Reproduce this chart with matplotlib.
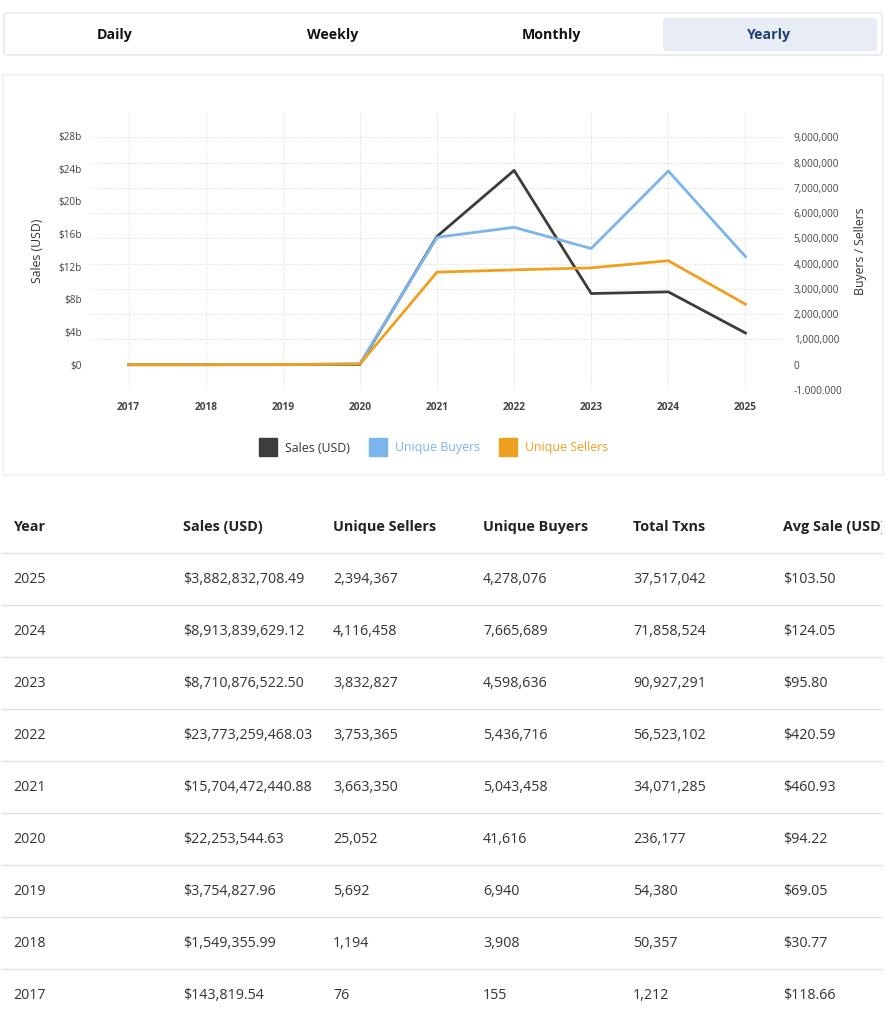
import matplotlib.pyplot as plt
from matplotlib.patches import FancyBboxPatch, Rectangle
from matplotlib.lines import Line2D
from matplotlib.ticker import FixedLocator, FuncFormatter

plt.rcParams['font.family'] = ['Open Sans', 'DejaVu Sans']

# data, chronological order
years = [2017, 2018, 2019, 2020, 2021, 2022, 2023, 2024, 2025]
sales = [143819.54, 1549355.99, 3754827.96, 22253544.63, 15704472440.88,
         23773259468.03, 8710876522.50, 8913839629.12, 3882832708.49]
sellers = [76, 1194, 5692, 25052, 3663350, 3753365, 3832827, 4116458, 2394367]
buyers = [155, 3908, 6940, 41616, 5043458, 5436716, 4598636, 7665689, 4278076]
txns = [1212, 50357, 54380, 236177, 34071285, 56523102, 90927291, 71858524, 37517042]
avg_sale = [118.66, 30.77, 69.05, 94.22, 460.93, 420.59, 95.80, 124.05, 103.50]

tabs = ['Daily', 'Weekly', 'Monthly', 'Yearly']
columns = ['Year', 'Sales (USD)', 'Unique Sellers', 'Unique Buyers', 'Total Txns', 'Avg Sale (USD)']

SALES_C = '#3c3c3c'
BUYERS_C = '#7cb5ec'
SELLERS_C = '#f0a020'
TEXT_C = '#333333'

# USD on the left axis per count on the right axis
SCALE = 3092

W, H = 885, 1014
fig = plt.figure(figsize=(W / 100, H / 100), dpi=100)
fig.patch.set_facecolor('white')


def fx(x):
    return x / W


def fy(y):
    return 1 - y / H


# tab bar
fig.patches.append(FancyBboxPatch((fx(4), fy(55)), fx(878), 42 / H,
                                  boxstyle='round,pad=0,rounding_size=0.004',
                                  transform=fig.transFigure, facecolor='white',
                                  edgecolor='#dddddd', linewidth=0.8, zorder=-10))
fig.patches.append(FancyBboxPatch((fx(663), fy(51)), fx(214), 33 / H,
                                  boxstyle='round,pad=0,rounding_size=0.003',
                                  transform=fig.transFigure, facecolor='#e8edf5',
                                  edgecolor='none', zorder=-9))
for i, t in enumerate(tabs):
    cx = 6 + 218 * i + 109
    col = '#1c3d73' if t == 'Yearly' else '#111111'
    fig.text(fx(cx), fy(35), t, ha='center', va='center', fontsize=10.2,
             fontweight='bold', color=col)

# chart card with soft shadow
for k, a in enumerate([0.015, 0.02, 0.03]):
    d = 3 - k
    fig.patches.append(Rectangle((fx(4 - d), fy(474 + d)), fx(878 + 2 * d), (398 + 2 * d) / H,
                                 transform=fig.transFigure, facecolor='#000000',
                                 alpha=a, edgecolor='none', zorder=-10))
fig.patches.append(Rectangle((fx(4), fy(474)), fx(878), 398 / H,
                             transform=fig.transFigure, facecolor='white',
                             edgecolor='none', zorder=-9))

# chart
ax = fig.add_axes([fx(90), fy(390), fx(694), 278 / H])
ax.set_facecolor('none')
ax2 = ax.twinx()

ax.plot(years, sales, color=SALES_C, linewidth=2, zorder=3)
ax2.plot(years, buyers, color=BUYERS_C, linewidth=2, zorder=3)
ax2.plot(years, sellers, color=SELLERS_C, linewidth=2, zorder=3)

right_ticks = [i * 1e6 for i in range(-1, 10)]
ax.set_xlim(2016.5, 2025.5)
ax2.set_ylim(-1e6, 1e7)
ax.set_ylim(-1e6 * SCALE, 1e7 * SCALE)

ax.xaxis.set_major_locator(FixedLocator(years))
ax.set_xticklabels([str(y) for y in years], fontweight='bold', color='#444444')
ax.set_yticks([i * 4e9 for i in range(8)])
ax.yaxis.set_major_formatter(FuncFormatter(lambda v, p: '$0' if v == 0 else '$%db' % round(v / 1e9)))
# horizontal grid follows the right axis, drawn on the bottom axes
ax.set_yticks([v * SCALE for v in right_ticks], minor=True)
ax2.set_yticks(right_ticks)


def right_fmt(v, p):
    s = '{:,}'.format(int(round(v)))
    if v < 0:
        s = s.replace(',', '.')
    return s


ax2.yaxis.set_major_formatter(FuncFormatter(right_fmt))

for a in (ax, ax2):
    for s in a.spines.values():
        s.set_visible(False)
    a.tick_params(which='both', length=0, labelsize=7.2, labelcolor='#444444')
ax.tick_params(axis='x', labelsize=7.3, pad=9)
ax.tick_params(axis='y', pad=6)
ax2.tick_params(axis='y', pad=7)

ax.grid(axis='x', which='major', color='#dddddd', linestyle=(0, (2, 2)), linewidth=0.6)
ax.grid(axis='y', which='minor', color='#dddddd', linestyle=(0, (2, 2)), linewidth=0.6)
ax.set_axisbelow(True)

ax.set_ylabel('Sales (USD)', fontsize=8.8, color='#333333', labelpad=10)
ax2.set_ylabel('Buyers / Sellers', fontsize=8.8, color='#333333', labelpad=8)

handles = [Line2D([], [], linestyle='none', marker='s', markersize=12.5, color=c)
           for c in (SALES_C, BUYERS_C, SELLERS_C)]
leg = fig.legend(handles, ['Sales (USD)', 'Unique Buyers', 'Unique Sellers'],
                 loc='center', bbox_to_anchor=(fx(435), fy(448)), ncol=3, frameon=False,
                 fontsize=8.9, handlelength=1.0, handletextpad=0.85, columnspacing=1.8)
for txt, c in zip(leg.get_texts(), (TEXT_C, BUYERS_C, SELLERS_C)):
    txt.set_color(c)

# table
col_x = [13, 183, 333, 483, 633, 783]
clip = Rectangle((0, 0), fx(882), 1, transform=fig.transFigure, visible=False)
fig.patches.append(clip)

for x, name in zip(col_x, columns):
    t = fig.text(fx(x), fy(531), name, ha='left', va='baseline', fontsize=10.4,
                 fontweight='bold', color='#222222')
    t.set_clip_path(clip)

row_y0 = 578
fig.add_artist(Line2D([fx(2), fx(882)], [fy(553), fy(553)], color='#e3e3e3', linewidth=1))
for r, i in enumerate(reversed(range(len(years)))):
    y = row_y0 + 52 * r
    vals = [str(years[i]), '${:,.2f}'.format(sales[i]), '{:,}'.format(sellers[i]),
            '{:,}'.format(buyers[i]), '{:,}'.format(txns[i]), '${:.2f}'.format(avg_sale[i])]
    for x, v in zip(col_x, vals):
        fig.text(fx(x), fy(y + 5), v, ha='left', va='baseline', fontsize=10.3, color=TEXT_C)
    ly = y + 27
    fig.add_artist(Line2D([fx(2), fx(882)], [fy(ly), fy(ly)], color='#e3e3e3', linewidth=1))

fig.savefig('out.png', dpi=100, facecolor='white')
